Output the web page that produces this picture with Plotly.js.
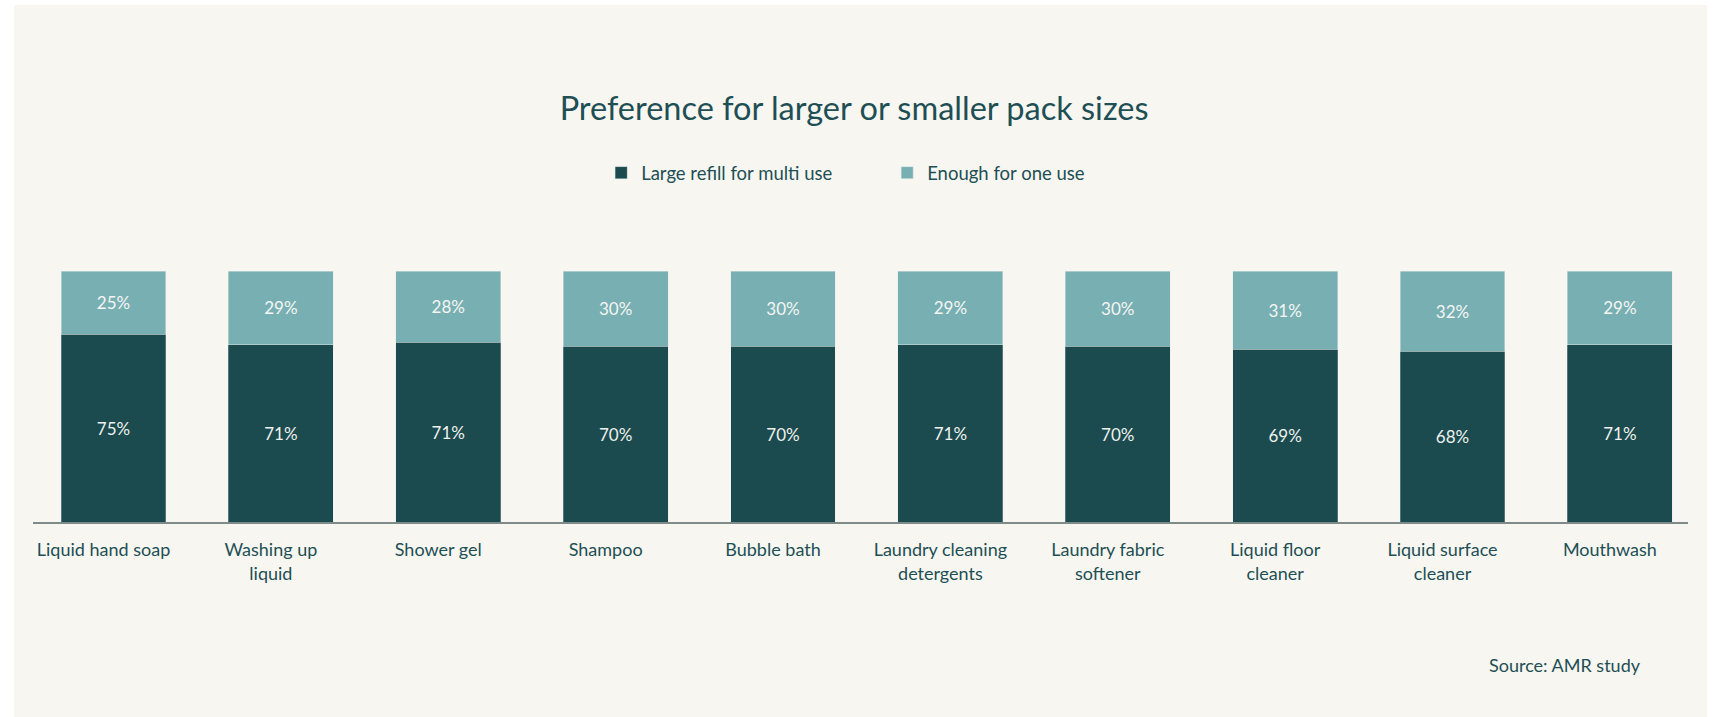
<!DOCTYPE html>
<html>
<head>
<meta charset="utf-8">
<script src="https://cdn.plot.ly/plotly-3.0.1.min.js"></script>
<style>
  html, body { margin: 0; padding: 0; background: #ffffff; width: 1714px; height: 717px; overflow: hidden; }
  #chart { position: absolute; left: 14px; top: 5px; width: 1693px; height: 712px; }
</style>
</head>
<body>
<div id="chart"></div>
<script>
// Categories (tick labels)
const categories = [
  "Liquid hand soap",
  "Washing up<br>liquid",
  "Shower gel",
  "Shampoo",
  "Bubble bath",
  "Laundry cleaning<br>detergents",
  "Laundry fabric<br>softener",
  "Liquid floor<br>cleaner",
  "Liquid surface<br>cleaner",
  "Mouthwash"
];

// Series values (share of respondents, %)
const largeRefill = [74.8, 70.7, 71.6, 70.0, 70.0, 70.7, 70.0, 68.8, 68.1, 70.7];
const oneUse      = [25.2, 29.3, 28.4, 30.0, 30.0, 29.3, 30.0, 31.2, 31.9, 29.3];

// Printed value labels
const largeRefillLabels = ["75%", "71%", "71%", "70%", "70%", "71%", "70%", "69%", "68%", "71%"];
const oneUseLabels      = ["25%", "29%", "28%", "30%", "30%", "29%", "30%", "31%", "32%", "29%"];

const seriesNames = ["Large refill for multi use", "Enough for one use"];

const DARK = "#1b4a4f";
const LIGHT = "#78afb3";
const BG = "#f7f6f1";
const TEXT = "#1e4f54";
const FONT = "Lato, 'Noto Sans', sans-serif";

const x = categories.map((c, i) => i);

const traces = [
  {
    type: "bar",
    name: seriesNames[0],
    x: x,
    y: largeRefill,
    text: largeRefillLabels,
    textposition: "inside",
    insidetextanchor: "middle",
    textangle: 0,
    constraintext: "none",
    textfont: { family: FONT, size: 17, color: "#eef1ec" },
    marker: { color: DARK, line: { color: "rgba(225,235,233,0.35)", width: 0.8 } },
    width: 0.627,
    hoverinfo: "skip"
  },
  {
    type: "bar",
    name: seriesNames[1],
    x: x,
    y: oneUse,
    text: oneUseLabels,
    textposition: "inside",
    insidetextanchor: "middle",
    textangle: 0,
    constraintext: "none",
    textfont: { family: FONT, size: 17, color: "#f4f6f2" },
    marker: { color: LIGHT, line: { color: "rgba(225,235,233,0.6)", width: 0.8 } },
    width: 0.627,
    hoverinfo: "skip"
  }
];

const layout = {
  width: 1693,
  height: 712,
  paper_bgcolor: BG,
  plot_bgcolor: BG,
  barmode: "stack",
  margin: { l: 18.7, r: 19, t: 265.7, b: 195.3, pad: 0 },
  font: { family: FONT, color: TEXT, size: 18 },
  title: {
    text: "Preference for larger or smaller pack sizes",
    font: { family: FONT, size: 32.5, color: TEXT },
    xref: "container", yref: "container",
    x: 0.4962, xanchor: "center",
    y: 0.854, yanchor: "middle"
  },
  showlegend: true,
  legend: {
    orientation: "h",
    x: 0.3433, xanchor: "left",
    y: 1.39, yanchor: "middle",
    entrywidth: 241,
    traceorder: "normal",
    font: { family: FONT, size: 18.5, color: TEXT },
    bgcolor: "rgba(0,0,0,0)",
    borderwidth: 0
  },
  xaxis: {
    type: "linear",
    range: [-0.481, 9.407],
    tickmode: "array",
    tickvals: x,
    ticktext: categories,
    tickangle: 0,
    ticks: "",
    ticklabelstandoff: 11,
    ticklabelshift: -10,
    tickfont: { family: FONT, size: 18, color: TEXT },
    showgrid: false,
    zeroline: false,
    showline: true,
    linecolor: "#7f8b89",
    linewidth: 1.5,
    fixedrange: true
  },
  yaxis: {
    range: [0, 100],
    visible: false,
    showgrid: false,
    zeroline: false,
    fixedrange: true
  },
  annotations: [
    {
      text: "Source: AMR study",
      xref: "paper", yref: "paper",
      x: 0.9728, xanchor: "right",
      y: -0.571, yanchor: "middle",
      showarrow: false,
      font: { family: FONT, size: 18, color: TEXT }
    }
  ]
};

Plotly.newPlot("chart", traces, layout, { displayModeBar: false, staticPlot: true });
</script>
</body>
</html>
